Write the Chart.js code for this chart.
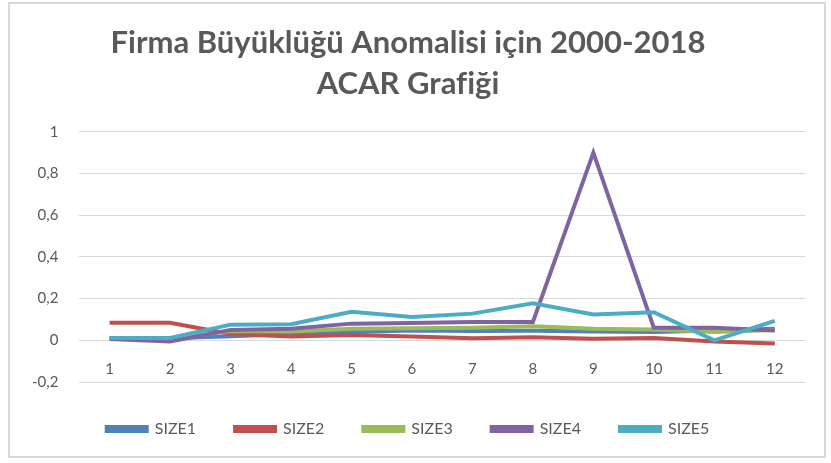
<!DOCTYPE html>
<html lang="tr">
<head>
  <meta charset="UTF-8">
  <title>ACAR Grafiği</title>
  <script src="https://cdn.jsdelivr.net/npm/chart.js"></script>
  <style>
    html, body { margin: 0; padding: 0; background: #fff; }
    #kutu { width: 831px; height: 463px; }
  </style>
</head>
<body>
  <div id="kutu"><canvas id="grafik"></canvas></div>

  <script>
    const kategoriler = ['1', '2', '3', '4', '5', '6', '7', '8', '9', '10', '11', '12'];
    const size1 = [0.010, 0.010, 0.020, 0.030, 0.040, 0.047, 0.045, 0.046, 0.042, 0.040, 0.047, 0.055];
    const size2 = [0.084, 0.084, 0.030, 0.018, 0.025, 0.018, 0.010, 0.015, 0.008, 0.011, -0.006, -0.015];
    const size3 = [0.010, 0.008, 0.045, 0.042, 0.055, 0.058, 0.060, 0.067, 0.055, 0.052, 0.040, 0.050];
    const size4 = [0.006, -0.006, 0.050, 0.055, 0.080, 0.083, 0.088, 0.088, 0.900, 0.060, 0.060, 0.047];
    const size5 = [0.011, 0.011, 0.075, 0.077, 0.137, 0.112, 0.128, 0.178, 0.124, 0.135, 0.000, 0.093];
    const baslik = ['Firma Büyüklüğü Anomalisi için 2000-2018', 'ACAR Grafiği'];

    const renkler = ['#4F81BD', '#C0504D', '#9BBB59', '#8064A2', '#4BACC6'];
    const seriler = [size1, size2, size3, size4, size5];
    const gri = '#595959';

    // cerceve + beyaz zemin
    const cerceve = {
      id: 'cerceve',
      beforeDraw(chart) {
        const c = chart.ctx;
        c.save();
        c.fillStyle = '#fff';
        c.fillRect(0, 0, chart.width, chart.height);
        c.strokeStyle = '#d9d9d9';
        c.lineWidth = 2;
        c.strokeRect(9, 3, 816, 454);
        c.restore();
      }
    };

    const ctx = document.getElementById('grafik').getContext('2d');
    new Chart(ctx, {
      type: 'line',
      data: {
        labels: kategoriler,
        datasets: seriler.map((d, i) => ({
          label: 'SIZE' + (i + 1),
          data: d,
          borderColor: renkler[i],
          backgroundColor: renkler[i],
          borderWidth: 4,
          pointRadius: 0,
          tension: 0,
          fill: false,
          order: 5 - i // SIZE5 en ustte
        }))
      },
      options: {
        responsive: true,
        maintainAspectRatio: false,
        animation: false,
        layout: { padding: { left: 11, right: 26, top: 4, bottom: 16 } },
        plugins: {
          tooltip: { enabled: false },
          title: {
            display: true,
            text: baslik,
            color: gri,
            font: { family: 'Lato', size: 31, weight: 'bold', lineHeight: 1.32 },
            padding: { top: 19, bottom: 27 }
          },
          legend: {
            position: 'bottom',
            labels: {
              color: gri,
              font: { family: 'Lato', size: 16 },
              boxWidth: 40,
              boxHeight: 4,
              padding: 39,
              sort: (a, b) => a.datasetIndex - b.datasetIndex
            }
          }
        },
        scales: {
          x: {
            position: { y: 0 },
            offset: true,
            grid: { display: false },
            border: { display: false },
            ticks: { color: gri, font: { family: 'Lato', size: 15 }, padding: 12 }
          },
          y: {
            min: -0.2,
            max: 1,
            grid: { color: '#d9d9d9', drawTicks: false },
            border: { display: false },
            ticks: {
              stepSize: 0.2,
              color: gri,
              font: { family: 'Lato', size: 15 },
              padding: 21,
              callback: v => String(Math.round(v * 10) / 10).replace('.', ',')
            }
          }
        }
      },
      plugins: [cerceve]
    });
  </script>
</body>
</html>
